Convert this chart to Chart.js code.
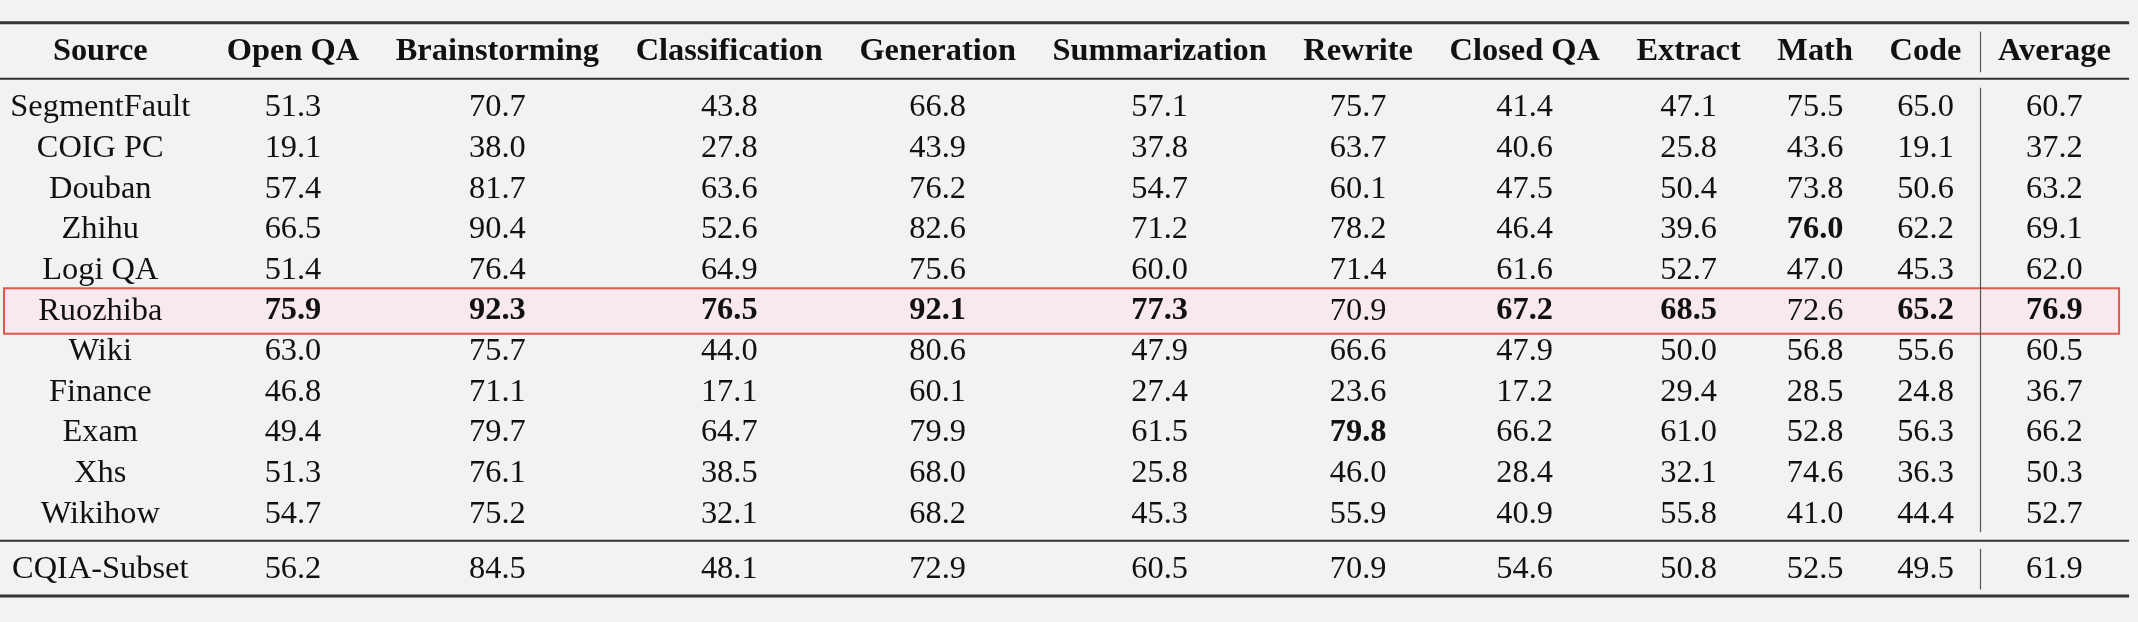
<!DOCTYPE html>
<html>
<head>
<meta charset="utf-8">
<script src="https://cdn.jsdelivr.net/npm/chart.js@4.4.1/dist/chart.umd.min.js"></script>
<style>
  html, body { margin: 0; padding: 0; background: #f2f2f2; }
  canvas { display: block; }
</style>
</head>
<body>
<canvas id="scoreTable" width="2138" height="622"></canvas>
<script>
// Filas (fuentes) y columnas (tareas)
const sources = ['SegmentFault', 'COIG PC', 'Douban', 'Zhihu', 'Logi QA', 'Ruozhiba',
  'Wiki', 'Finance', 'Exam', 'Xhs', 'Wikihow'];
const summarySource = 'CQIA-Subset';
const tasks = ['Open QA', 'Brainstorming', 'Classification', 'Generation', 'Summarization',
  'Rewrite', 'Closed QA', 'Extract', 'Math', 'Code'];
const averageLabel = 'Average';

// Puntuaciones por tarea (última posición = CQIA-Subset)
const openQA         = [51.3, 19.1, 57.4, 66.5, 51.4, 75.9, 63.0, 46.8, 49.4, 51.3, 54.7, 56.2];
const brainstorming  = [70.7, 38.0, 81.7, 90.4, 76.4, 92.3, 75.7, 71.1, 79.7, 76.1, 75.2, 84.5];
const classification = [43.8, 27.8, 63.6, 52.6, 64.9, 76.5, 44.0, 17.1, 64.7, 38.5, 32.1, 48.1];
const generation     = [66.8, 43.9, 76.2, 82.6, 75.6, 92.1, 80.6, 60.1, 79.9, 68.0, 68.2, 72.9];
const summarization  = [57.1, 37.8, 54.7, 71.2, 60.0, 77.3, 47.9, 27.4, 61.5, 25.8, 45.3, 60.5];
const rewrite        = [75.7, 63.7, 60.1, 78.2, 71.4, 70.9, 66.6, 23.6, 79.8, 46.0, 55.9, 70.9];
const closedQA       = [41.4, 40.6, 47.5, 46.4, 61.6, 67.2, 47.9, 17.2, 66.2, 28.4, 40.9, 54.6];
const extract        = [47.1, 25.8, 50.4, 39.6, 52.7, 68.5, 50.0, 29.4, 61.0, 32.1, 55.8, 50.8];
const math           = [75.5, 43.6, 73.8, 76.0, 47.0, 72.6, 56.8, 28.5, 52.8, 74.6, 41.0, 52.5];
const code           = [65.0, 19.1, 50.6, 62.2, 45.3, 65.2, 55.6, 24.8, 56.3, 36.3, 44.4, 49.5];
const average        = [60.7, 37.2, 63.2, 69.1, 62.0, 76.9, 60.5, 36.7, 66.2, 50.3, 52.7, 61.9];

const taskScores = [openQA, brainstorming, classification, generation, summarization,
  rewrite, closedQA, extract, math, code];

// Mejores resultados por columna (en negrita) y fila destacada
const bestCells = [
  ['Ruozhiba', 'Open QA'], ['Ruozhiba', 'Brainstorming'], ['Ruozhiba', 'Classification'],
  ['Ruozhiba', 'Generation'], ['Ruozhiba', 'Summarization'], ['Exam', 'Rewrite'],
  ['Ruozhiba', 'Closed QA'], ['Ruozhiba', 'Extract'], ['Zhihu', 'Math'],
  ['Ruozhiba', 'Code'], ['Ruozhiba', 'Average'],
];
const highlightSource = 'Ruozhiba';

// Estilo tipo LaTeX / booktabs
const FONT_SIZE = 32.4;
const COL_SEP = 18.3;
const fontFor = (bold) => `${bold ? 'bold ' : ''}${FONT_SIZE}px "Liberation Serif", "Times New Roman", serif`;
const fmt = (v) => v.toFixed(1);

// Textos de cada columna: cabecera + filas + resumen
const allSources = [...sources, summarySource];
const columnTexts = [
  ['Source', ...allSources],
  ...tasks.map((t, i) => [t, ...taskScores[i].map(fmt)]),
  [averageLabel, ...average.map(fmt)],
];
const columnHeads = columnTexts.map((col) => col[0]);
const isBold = (c, r) => {
  if (r === 0) return true;
  if (c === 0) return false;
  return bestCells.some(([s, t]) => s === allSources[r - 1] && t === columnHeads[c]);
};

// Ancho de columna = texto más ancho + separación (como tabular)
const measureCtx = document.createElement('canvas').getContext('2d');
const colWidths = columnTexts.map((col, c) => {
  let w = 0;
  col.forEach((txt, r) => {
    measureCtx.font = fontFor(isBold(c, r));
    w = Math.max(w, measureCtx.measureText(txt).width);
  });
  return w + 2 * COL_SEP;
});
const colCenters = [];
let acc = 0;
colWidths.forEach((w) => { colCenters.push(acc + w / 2); acc += w; });
const tableWidth = acc;
const barX = tableWidth - colWidths[colWidths.length - 1];

// Posiciones verticales en unidades de fila
const rowYs = [0];
sources.forEach((s, i) => rowYs.push(i === 0 ? 1.38 : rowYs[rowYs.length - 1] + 1));
rowYs.push(rowYs[rowYs.length - 1] + 1.36);
const lastBody = rowYs[rowYs.length - 2];
const summaryY = rowYs[rowYs.length - 1];
const rules = [
  { y: -0.72, w: 3 },
  { y: 0.66, w: 2 },
  { y: lastBody + 0.66, w: 2 },
  { y: summaryY + 0.66, w: 3 },
];

const tablePlugin = {
  id: 'tablePlugin',
  beforeDatasetsDraw(chart) {
    const { ctx, scales: { x, y } } = chart;
    ctx.save();
    // Recuadro de la fila destacada
    const hy = rowYs[allSources.indexOf(highlightSource) + 1];
    const top = y.getPixelForValue(hy - 0.56);
    const bottom = y.getPixelForValue(hy + 0.56);
    const left = x.getPixelForValue(12);
    const right = x.getPixelForValue(tableWidth - 10);
    ctx.fillStyle = 'rgba(255, 222, 232, 0.45)';
    ctx.fillRect(left, top, right - left, bottom - top);
    ctx.strokeStyle = '#e2574c';
    ctx.lineWidth = 2;
    ctx.strokeRect(left, top, right - left, bottom - top);

    // Reglas horizontales
    ctx.strokeStyle = '#333';
    rules.forEach((r) => {
      const py = y.getPixelForValue(r.y);
      ctx.lineWidth = r.w;
      ctx.beginPath();
      ctx.moveTo(x.getPixelForValue(0), py);
      ctx.lineTo(x.getPixelForValue(tableWidth), py);
      ctx.stroke();
    });

    // Separador vertical antes de Average
    const bx = Math.round(x.getPixelForValue(barX)) + 0.5;
    ctx.strokeStyle = '#555';
    ctx.lineWidth = 1.2;
    [[-0.5, 0.5], [rowYs[1] - 0.5, lastBody + 0.45], [summaryY - 0.5, summaryY + 0.5]]
      .forEach(([a, b]) => {
        ctx.beginPath();
        ctx.moveTo(bx, y.getPixelForValue(a));
        ctx.lineTo(bx, y.getPixelForValue(b));
        ctx.stroke();
      });
    ctx.restore();
  },
  afterDatasetsDraw(chart) {
    const { ctx } = chart;
    ctx.save();
    ctx.fillStyle = '#111';
    ctx.textAlign = 'center';
    ctx.textBaseline = 'middle';
    chart.data.datasets.forEach((ds, c) => {
      chart.getDatasetMeta(c).data.forEach((pt, r) => {
        ctx.font = fontFor(isBold(c, r));
        ctx.fillText(ds.texts[r], pt.x, pt.y);
      });
    });
    ctx.restore();
  },
};

new Chart(document.getElementById('scoreTable'), {
  type: 'scatter',
  data: {
    datasets: columnTexts.map((col, c) => ({
      label: col[0],
      texts: col,
      data: rowYs.map((ry) => ({ x: colCenters[c], y: ry })),
      pointRadius: 0,
      pointHoverRadius: 0,
    })),
  },
  options: {
    responsive: false,
    animation: false,
    events: [],
    layout: { padding: 0 },
    scales: {
      x: { type: 'linear', display: false, min: 8, max: 8 + 2138 },
      y: { type: 'linear', display: false, reverse: true, min: -1.28, max: 14.04 },
    },
    plugins: {
      legend: { display: false },
      tooltip: { enabled: false },
    },
  },
  plugins: [tablePlugin],
});
</script>
</body>
</html>
